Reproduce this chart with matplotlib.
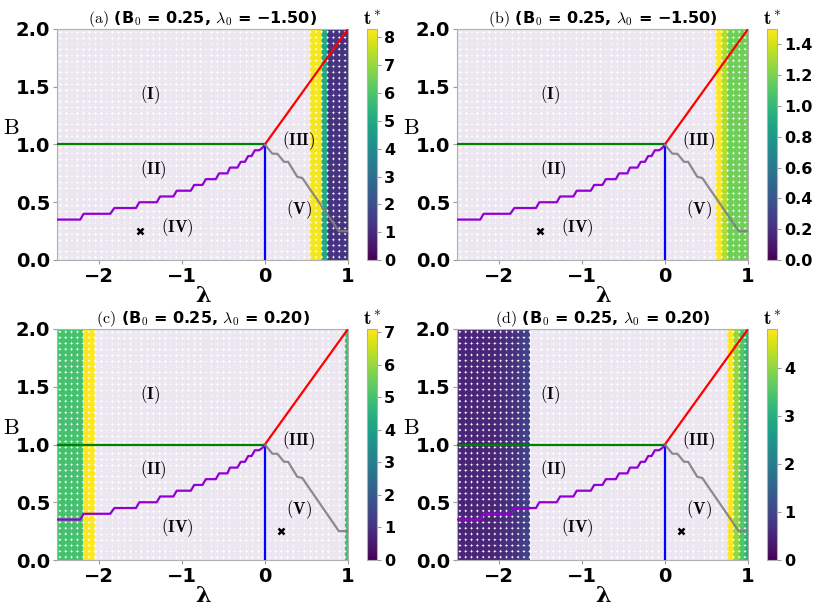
import numpy as np
import matplotlib
matplotlib.use("Agg")
import matplotlib.pyplot as plt

plt.rcParams['mathtext.fontset'] = 'cm'
plt.rcParams['font.family'] = ['DejaVu Sans']

# grid of (lambda, B) points
lam_grid = np.linspace(-2.5, 1.0, 51)
B_grid = np.linspace(0.0, 2.0, 41)

# panel settings
titles = ["(a)", "(b)", "(c)", "(d)"]
B0_vals = [0.25, 0.25, 0.25, 0.25]
lam0_vals = [-1.50, -1.50, 0.20, 0.20]
vmax_vals = [8.3, 1.5, 7.1, 4.8]
cbar_ticks = [[0, 1, 2, 3, 4, 5, 6, 7, 8],
              [0.0, 0.2, 0.4, 0.6, 0.8, 1.0, 1.2, 1.4],
              [0, 1, 2, 3, 4, 5, 6, 7],
              [0, 1, 2, 3, 4]]

# t* per coloured column: {column index: value}; other columns have no value
cols_a = {44: 8.2, 45: 8.2, 46: 5.0, 47: 1.2, 48: 1.2, 49: 1.2, 50: 1.2}
cols_b = {45: 1.5, 46: 1.32, 47: 1.17, 48: 1.17, 49: 1.17, 50: 1.17}
cols_c = {0: 5.0, 1: 5.0, 2: 5.0, 3: 5.0, 4: 5.0, 5: 7.1, 6: 7.1, 50: 5.0}
cols_d = {0: 0.5, 1: 0.5, 2: 0.5, 3: 0.5, 4: 0.5, 5: 0.5, 6: 0.5, 7: 0.55,
          8: 0.6, 9: 0.65, 10: 0.7, 11: 0.8, 12: 0.95,
          47: 4.8, 48: 4.0, 49: 3.5, 50: 3.0}
panel_cols = [cols_a, cols_b, cols_c, cols_d]

# phase boundaries
green_lam = [-2.5, 0.0]
green_B = [1.0, 1.0]
red_lam = [0.0, 1.0]
red_B = [1.0, 2.0]
blue_lam = [0.0, 0.0]
blue_B = [0.0, 1.0]
purple_lam = [-2.5, -2.22, -2.18, -1.86, -1.81, -1.55, -1.51, -1.30, -1.26, -1.10,
              -1.06, -0.89, -0.85, -0.75, -0.71, -0.59, -0.55, -0.45, -0.42, -0.33,
              -0.29, -0.24, -0.20, -0.16, -0.12, -0.07, -0.03, 0.0]
purple_B = [0.35, 0.35, 0.40, 0.40, 0.45, 0.45, 0.50, 0.50, 0.55, 0.55,
            0.60, 0.60, 0.65, 0.65, 0.70, 0.70, 0.75, 0.75, 0.80, 0.80,
            0.85, 0.85, 0.90, 0.90, 0.95, 0.95, 0.97, 1.0]
gray_lam = [0.0, 0.09, 0.15, 0.23, 0.28, 0.39, 0.45, 0.89, 1.0]
gray_B = [1.0, 0.92, 0.92, 0.85, 0.85, 0.72, 0.71, 0.25, 0.25]

region_names = ["(I)", "(II)", "(III)", "(IV)", "(V)"]
region_lam = [-1.38, -1.34, 0.40, -1.05, 0.41]
region_B = [1.43, 0.78, 1.03, 0.28, 0.435]

W, H = 830, 609
fig = plt.figure(figsize=(W / 100, H / 100), dpi=100)

ax_px = [(57, 29), (457, 29), (57, 329), (457, 329)]
aw, ah = 291, 231

LL, BB = np.meshgrid(lam_grid, B_grid)

for i in range(4):
    x0, y0 = ax_px[i]
    ax = fig.add_axes([x0 / W, 1 - (y0 + ah) / H, aw / W, ah / H])
    cax = fig.add_axes([(x0 + 310) / W, 1 - (y0 + ah) / H, 10 / W, ah / H])

    t = np.full(LL.shape, np.nan)
    for c, v in panel_cols[i].items():
        t[:, c] = v
    empty = np.isnan(t)
    ax.scatter(LL[empty], BB[empty], s=22, marker='o', color='#ece6f0',
               linewidths=0, zorder=1)
    sc = ax.scatter(LL[~empty], BB[~empty], c=t[~empty], s=22, marker='o',
                    cmap='viridis', vmin=0, vmax=vmax_vals[i], linewidths=0, zorder=1)

    ax.plot(green_lam, green_B, color='green', lw=1.6, zorder=3)
    ax.plot(red_lam, red_B, color='red', lw=1.6, zorder=3)
    ax.plot(blue_lam, blue_B, color='blue', lw=1.6, zorder=3)
    ax.plot(purple_lam, purple_B, color='darkviolet', lw=1.6, zorder=3)
    ax.plot(gray_lam, gray_B, color='gray', lw=1.6, alpha=0.9, zorder=3)

    ax.plot(lam0_vals[i], B0_vals[i], 'x', color='black', ms=5, mew=1.8, zorder=4)
    for name, lx, ly in zip(region_names, region_lam, region_B):
        ax.text(lx, ly, r"$\mathbf{%s}$" % name, fontsize=12, ha='center',
                va='center', zorder=5)

    ax.set_xlim(-2.5, 1.0)
    ax.set_ylim(0.0, 2.0)
    ax.set_xticks([-2, -1, 0, 1])
    ax.set_yticks([0.0, 0.5, 1.0, 1.5, 2.0])
    ax.set_yticklabels(["0.0", "0.5", "1.0", "1.5", "2.0"])
    ax.tick_params(labelsize=14, length=3, color='#999999', pad=2)
    for lab in ax.get_xticklabels() + ax.get_yticklabels():
        lab.set_fontweight('bold')
    for sp in ax.spines.values():
        sp.set_color('#b0b0b0')

    ax.set_xlabel("λ", fontsize=16, fontweight='bold', family='DejaVu Serif',
                  labelpad=-1)
    ax.set_ylabel(r"$\mathrm{B}$", fontsize=16, rotation=0, ha='right')
    ax.yaxis.set_label_coords(-0.13, 0.53)

    lam0_txt = f"{lam0_vals[i]:.2f}".replace("-", "\u2212")
    ax.set_title(r"$\mathrm{%s}$ " % titles[i] +
                 r"(B$_0$ = %.2f, $\lambda_0$ = %s)" % (B0_vals[i], lam0_txt),
                 fontsize=11.5, fontweight='bold', pad=3)

    cb = fig.colorbar(sc, cax=cax)
    cb.set_ticks(cbar_ticks[i])
    if i == 1:
        cb.set_ticklabels([f"{v:.1f}" for v in cbar_ticks[i]])
    cb.ax.tick_params(labelsize=11.5, length=3, color='#999999', pad=2)
    for lab in cb.ax.get_yticklabels():
        lab.set_fontweight('bold')
    cb.outline.set_edgecolor('#b0b0b0')
    cb.ax.set_title(r"$\mathbf{t^*}$", fontsize=14, pad=3)

fig.savefig("out.png", dpi=100)
